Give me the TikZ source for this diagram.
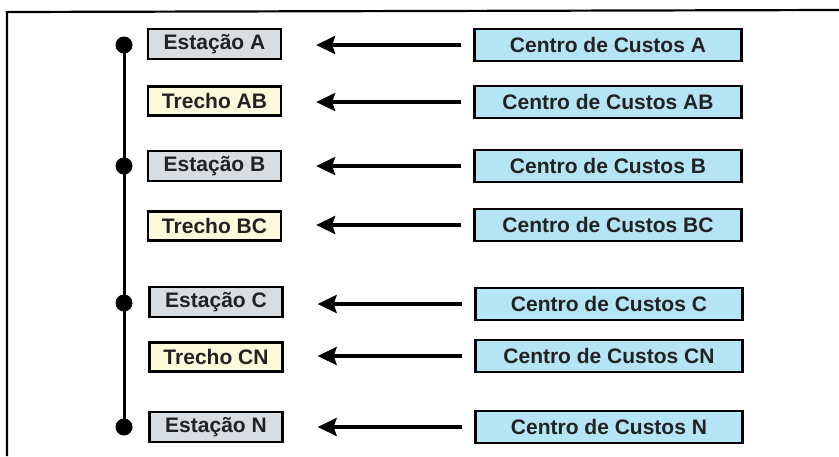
\documentclass[tikz,border=0pt]{standalone}
\usepackage{fontspec}
\setmainfont{Liberation Sans}
\usetikzlibrary{arrows.meta}
\definecolor{stationfill}{HTML}{D8DDE2}
\definecolor{trechofill}{HTML}{FBFBDC}
\definecolor{costfill}{HTML}{B5E4F4}
\definecolor{labeltext}{HTML}{222222}
\tikzset{
  x=1pt, y=-1pt,
  box/.style={draw=black, line width=2.3pt, inner sep=0pt, anchor=center,
    font=\bfseries\fontsize{21}{21}\selectfont, text=labeltext},
  stationbox/.style={box, fill=stationfill, minimum width=133pt, minimum height=30pt},
  trechobox/.style={box, fill=trechofill, minimum width=133pt, minimum height=29pt},
  costbox/.style={box, fill=costfill, minimum width=267pt, minimum height=32pt},
  feed/.style={line width=3.4pt, -{Stealth[length=19pt,width=18pt,inset=3pt]},
    shorten <=12pt, shorten >=34pt},
  dot/.style={circle, fill=black, inner sep=0pt, minimum size=17pt},
  spine/.style={line width=3pt},
  frame/.style={line width=2.2pt}
}
\begin{document}
\begin{tikzpicture}
\useasboundingbox (0,0) rectangle (839,456);
% outer frame (top and left edges)
\coordinate (fA) at (7,12);
\coordinate (fB) at (839,10);
\coordinate (fC) at (7,456);
\draw[frame] (fB) -- (fA) -- (fC);

% left column: stations and track sections
\node[stationbox] (s1) at (214.5,44)  {Estação A};
\node[trechobox]  (t1) at (214.5,101) {Trecho AB};
\node[stationbox] (s2) at (214.5,166) {Estação B};
\node[trechobox]  (t2) at (214.5,226) {Trecho BC};
\node[stationbox] (s3) at (216,302)   {Estação C};
\node[trechobox]  (t3) at (216,357)   {Trecho CN};
\node[stationbox] (s4) at (216,427)   {Estação N};

% right column: cost centres
\node[costbox] (c1) at (608,45)  {Centro de Custos A};
\node[costbox] (c2) at (608,102) {Centro de Custos AB};
\node[costbox] (c3) at (608,166) {Centro de Custos B};
\node[costbox] (c4) at (608,225) {Centro de Custos BC};
\node[costbox] (c5) at (609,304) {Centro de Custos C};
\node[costbox] (c6) at (609,356) {Centro de Custos CN};
\node[costbox] (c7) at (609,427) {Centro de Custos N};

% line with station dots
\node[dot] (d1) at (124,45)  {};
\node[dot] (d2) at (124,166) {};
\node[dot] (d3) at (124,303) {};
\node[dot] (d4) at (124,427) {};
\draw[spine] (d1.center) -- (d4.center);

% arrows from cost centres
\foreach \c/\l in {c1/s1, c2/t1, c3/s2, c4/t2, c5/s3, c6/t3, c7/s4}
  \draw[feed] (\c.west) -- (\c.west -| \l.east);
\end{tikzpicture}
\end{document}
